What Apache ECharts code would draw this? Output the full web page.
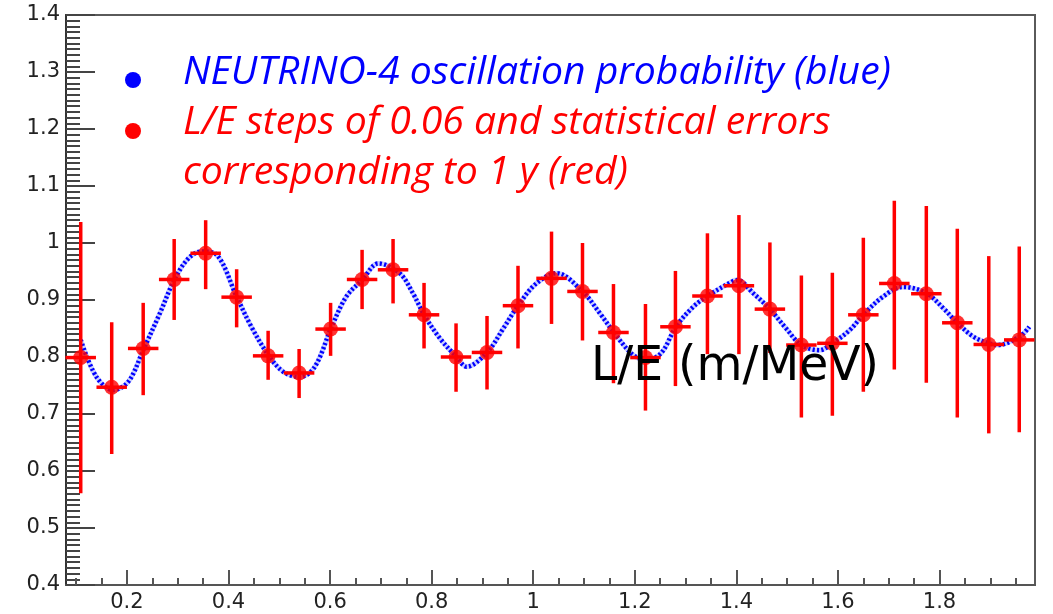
<!DOCTYPE html>
<html>
<head>
<meta charset="utf-8">
<script src="https://cdn.jsdelivr.net/npm/echarts@6/dist/echarts.min.js"></script>
<style>
html,body{margin:0;padding:0;background:#fff;}
#chart{width:1053px;height:614px;}
</style>
</head>
<body>
<div id="chart"></div>
<script>
// ---------- data ----------
// oscillation probability curve (blue dotted)
const curveX = [0.109,0.140,0.173,0.203,0.232,0.265,0.293,0.321,0.347,0.377,0.416,0.445,0.478,0.508,0.541,0.570,0.603,0.632,0.663,0.695,0.737,0.763,0.785,0.816,0.848,0.869,0.909,0.941,0.970,1.006,1.046,1.097,1.131,1.159,1.196,1.223,1.252,1.281,1.315,1.343,1.393,1.402,1.433,1.466,1.498,1.528,1.564,1.589,1.623,1.650,1.689,1.728,1.774,1.807,1.835,1.866,1.897,1.915,1.958,1.977];
const curveY = [0.830,0.765,0.742,0.757,0.812,0.877,0.935,0.973,0.985,0.979,0.906,0.853,0.804,0.774,0.765,0.783,0.853,0.906,0.935,0.964,0.947,0.912,0.874,0.833,0.801,0.783,0.808,0.850,0.890,0.929,0.947,0.915,0.877,0.843,0.804,0.795,0.807,0.853,0.888,0.907,0.933,0.935,0.912,0.884,0.850,0.821,0.812,0.824,0.847,0.874,0.906,0.923,0.912,0.886,0.860,0.836,0.824,0.821,0.836,0.853];

// simulated measurement points (red), L/E steps of 0.06
const pointX = [0.109,0.170,0.232,0.293,0.355,0.416,0.478,0.539,0.601,0.663,0.724,0.785,0.848,0.909,0.970,1.036,1.097,1.158,1.221,1.280,1.343,1.405,1.466,1.528,1.589,1.650,1.711,1.774,1.835,1.897,1.957];
const pointY = [0.799,0.747,0.815,0.936,0.982,0.905,0.802,0.772,0.849,0.936,0.953,0.874,0.800,0.808,0.890,0.938,0.915,0.843,0.799,0.853,0.907,0.925,0.884,0.821,0.824,0.874,0.929,0.911,0.860,0.822,0.830];
const errHigh = [1.037,0.861,0.895,1.007,1.040,0.954,0.846,0.814,0.895,0.988,1.007,0.930,0.859,0.872,0.960,1.020,1.000,0.928,0.893,0.951,1.017,1.049,1.001,0.943,0.948,1.009,1.074,1.065,1.025,0.977,0.994];
const errLow  = [0.561,0.630,0.733,0.865,0.919,0.852,0.760,0.728,0.802,0.884,0.894,0.815,0.739,0.743,0.815,0.858,0.829,0.754,0.706,0.749,0.805,0.805,0.807,0.694,0.697,0.739,0.778,0.755,0.694,0.666,0.668];
const binHalfWidth = 0.03;

// axis ticks
const xMajorTicks = [0.2,0.4,0.6,0.8,1.0,1.2,1.4,1.6,1.8];
const xTickLabels = ['0.2','0.4','0.6','0.8','1','1.2','1.4','1.6','1.8'];
const xMinorTicks = [0.1,0.15,0.25,0.3,0.35,0.45,0.5,0.55,0.65,0.7,0.75,0.85,0.9,0.95,1.05,1.1,1.15,1.25,1.3,1.35,1.45,1.5,1.55,1.65,1.7,1.75,1.85,1.9,1.95];
const yTickLabels = ['0.4','0.5','0.6','0.7','0.8','0.9','1','1.1','1.2','1.3','1.4'];

// texts
const legendLine1 = 'NEUTRINO-4 oscillation probability (blue)';
const legendLine2 = 'L/E steps of 0.06 and statistical errors';
const legendLine3 = 'corresponding to 1 y (red)';
const axisTitle = 'L/E (m/MeV)';

// ---------- helpers ----------
const mctx = document.createElement('canvas').getContext('2d');
function fit(text, style, family, targetW) {
  mctx.font = style + ' 100px ' + family;
  return 100 * targetW / mctx.measureText(text).width;
}
const legFamily = '"Open Sans"';
const legSize = fit(legendLine1, 'italic', legFamily, 708);
const titleFamily = '"DejaVu Sans"';
const titleSize = fit(axisTitle, 'normal', titleFamily, 288);

const chart = echarts.init(document.getElementById('chart'), null, {renderer: 'canvas'});

const XMIN = 0.08, XMAX = 1.988;

const option = {
  animation: false,
  backgroundColor: '#ffffff',
  grid: {left: 66, right: 18, top: 15, bottom: 29, show: true, borderColor: '#5a5a5a', borderWidth: 2, backgroundColor: 'transparent'},
  xAxis: [
    {
      type: 'value', min: XMIN, max: XMAX, position: 'bottom',
      axisLine: {show: true, lineStyle: {color: '#555', width: 2}},
      axisTick: {show: true, inside: true, length: 15, customValues: xMajorTicks, lineStyle: {color: '#555', width: 2}},
      axisLabel: {show: true, customValues: xMajorTicks, margin: 7, fontSize: 21, fontFamily: 'DejaVu Sans', color: '#222',
        formatter: function (v) { const i = xMajorTicks.findIndex(t => Math.abs(t - v) < 1e-6); return i >= 0 ? xTickLabels[i] : ''; }},
      splitLine: {show: false}
    },
    {
      type: 'value', min: XMIN, max: XMAX, position: 'bottom', offset: 0,
      axisLine: {show: false},
      axisTick: {show: true, inside: true, length: 7, customValues: xMinorTicks, lineStyle: {color: '#555', width: 2}},
      axisLabel: {show: false},
      splitLine: {show: false}
    }
  ],
  yAxis: {
    type: 'value', min: 0.4, max: 1.4, interval: 0.1,
    axisLine: {show: true, lineStyle: {color: '#333', width: 2}},
    axisTick: {show: true, inside: true, length: 29, lineStyle: {color: '#444', width: 2}},
    minorTick: {show: true, splitNumber: 10, length: 14, lineStyle: {color: '#444', width: 2}},
    axisLabel: {margin: 6, fontSize: 21, fontFamily: 'DejaVu Sans', color: '#222',
      formatter: function (v) { const i = Math.round((v - 0.4) * 10); return yTickLabels[i] !== undefined ? yTickLabels[i] : ''; }},
    splitLine: {show: false}
  },
  series: [
    {
      name: 'curve halo', type: 'line', xAxisIndex: 0, smooth: 0.35, symbol: 'none', silent: true, z: 1,
      data: curveX.map((x, i) => [x, curveY[i]]),
      lineStyle: {color: 'rgba(120,140,255,0.4)', width: 5}
    },
    {
      name: 'NEUTRINO-4 oscillation probability', type: 'line', xAxisIndex: 0, smooth: 0.35, symbol: 'none', z: 2,
      data: curveX.map((x, i) => [x, curveY[i]]),
      lineStyle: {color: '#0000ff', width: 4.5, type: [2.2, 2.2]}
    },
    {
      name: 'errors', type: 'custom', xAxisIndex: 0, z: 3,
      data: pointX.map((x, i) => [x, pointY[i], errLow[i], errHigh[i]]),
      encode: {x: 0, y: [1, 2, 3]},
      renderItem: function (params, api) {
        const x = api.value(0), y = api.value(1), lo = api.value(2), hi = api.value(3);
        const pt = api.coord([x, hi]), pb = api.coord([x, lo]);
        const pl = api.coord([x - binHalfWidth, y]), pr = api.coord([x + binHalfWidth, y]);
        const st = {stroke: '#ff0000', lineWidth: 3.5};
        return {type: 'group', children: [
          {type: 'line', shape: {x1: pt[0], y1: pt[1], x2: pb[0], y2: pb[1]}, style: st},
          {type: 'line', shape: {x1: pl[0], y1: pl[1], x2: pr[0], y2: pr[1]}, style: st}
        ]};
      }
    },
    {
      name: 'points', type: 'scatter', xAxisIndex: 0, z: 4, symbol: 'circle', symbolSize: 15,
      data: pointX.map((x, i) => [x, pointY[i]]),
      itemStyle: {color: '#ff0000'}
    }
  ],
  graphic: [
    {type: 'circle', shape: {cx: 133, cy: 80, r: 8}, style: {fill: '#0000ff'}, z: 10},
    {type: 'circle', shape: {cx: 133, cy: 131, r: 8}, style: {fill: '#ff0000'}, z: 10},
    {type: 'text', x: 183, y: 85 - 0.30 * legSize, z: 10,
      style: {text: legendLine1, fill: '#0000ff', fontFamily: legFamily, fontStyle: 'italic', fontSize: legSize, verticalAlign: 'middle', align: 'left'}},
    {type: 'text', x: 183, y: 134.5 - 0.30 * legSize, z: 10,
      style: {text: legendLine2, fill: '#ff0000', fontFamily: legFamily, fontStyle: 'italic', fontSize: legSize, verticalAlign: 'middle', align: 'left'}},
    {type: 'text', x: 183, y: 185 - 0.30 * legSize, z: 10,
      style: {text: legendLine3, fill: '#ff0000', fontFamily: legFamily, fontStyle: 'italic', fontSize: legSize, verticalAlign: 'middle', align: 'left'}},
    {type: 'text', x: 591, y: 381.5 - 0.30 * titleSize, z: 10,
      style: {text: axisTitle, fill: '#000000', fontFamily: titleFamily, fontSize: titleSize, verticalAlign: 'middle', align: 'left'}}
  ]
};
chart.setOption(option);
</script>
</body>
</html>
